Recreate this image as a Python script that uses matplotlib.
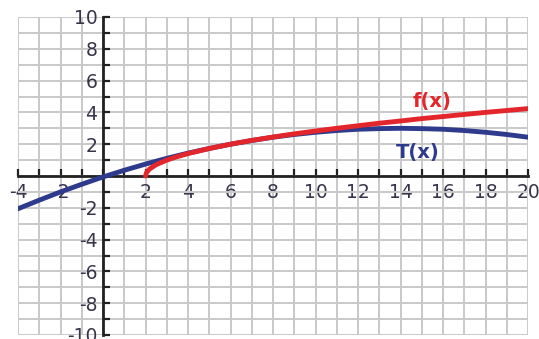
import matplotlib.pyplot as plt
from matplotlib.ticker import MultipleLocator, FuncFormatter

# red curve f(x)
fx = [2, 2.05, 2.2, 2.5, 3, 3.5, 4, 5, 6, 7, 8, 9, 10, 11, 12, 13, 14, 15, 16, 17, 18, 19, 20]
fy = [0, 0.22, 0.45, 0.71, 1.0, 1.22, 1.41, 1.73, 2.0, 2.24, 2.45, 2.65, 2.83, 3.0, 3.16,
      3.32, 3.46, 3.61, 3.74, 3.87, 4.0, 4.12, 4.24]

# blue curve T(x)
tx = [-4, -3, -2, -1, 0, 1, 2, 3, 4, 5, 6, 7, 8, 9, 10, 11, 12, 13, 14, 15, 16, 17, 18, 19, 20]
ty = [-2.06, -1.52, -1.0, -0.52, -0.06, 0.36, 0.75, 1.11, 1.44, 1.73, 2.0, 2.23, 2.44, 2.61,
      2.75, 2.86, 2.94, 2.98, 3.0, 2.98, 2.94, 2.86, 2.75, 2.61, 2.44]

plt.rcParams['font.family'] = ['DejaVu Sans']

fig = plt.figure(figsize=(5.39, 3.39), dpi=100)
ax = fig.add_axes([18 / 539, 4 / 339, 510 / 539, 318 / 339])

ax.set_xlim(-4, 20)
ax.set_ylim(-10, 10)

ax.xaxis.set_major_locator(MultipleLocator(1))
ax.yaxis.set_major_locator(MultipleLocator(1))
lab = FuncFormatter(lambda v, p: '' if (round(v) == 0 or round(v) % 2) else '%d' % round(v))
ax.xaxis.set_major_formatter(lab)
ax.yaxis.set_major_formatter(lab)

ax.grid(True, color='#c9c9c9', lw=1.4)
ax.set_axisbelow(True)

for s in ['top', 'right']:
    ax.spines[s].set_visible(False)
ax.spines['left'].set_position('zero')
ax.spines['bottom'].set_position('zero')
for s in ['left', 'bottom']:
    ax.spines[s].set_linewidth(2)
    ax.spines[s].set_color('#222222')

ax.tick_params(direction='in', length=5, width=1.6, color='#222222',
               labelsize=13.5, labelcolor='#38344a')
ax.tick_params(axis='x', pad=5)
ax.tick_params(axis='y', pad=4)

ax.plot(tx, ty, color='#2e3a8c', lw=3.5, solid_capstyle='round', zorder=3)
ax.plot(fx, fy, color='#e3262c', lw=3.5, solid_capstyle='round', zorder=4)

ax.text(15.5, 4.7, 'f(x)', color='#e3262c', fontsize=14, fontweight='bold',
        ha='center', va='center')
ax.text(14.8, 1.5, 'T(x)', color='#2e3a8c', fontsize=14, fontweight='bold',
        ha='center', va='center')

fig.savefig('out.png', dpi=100)
